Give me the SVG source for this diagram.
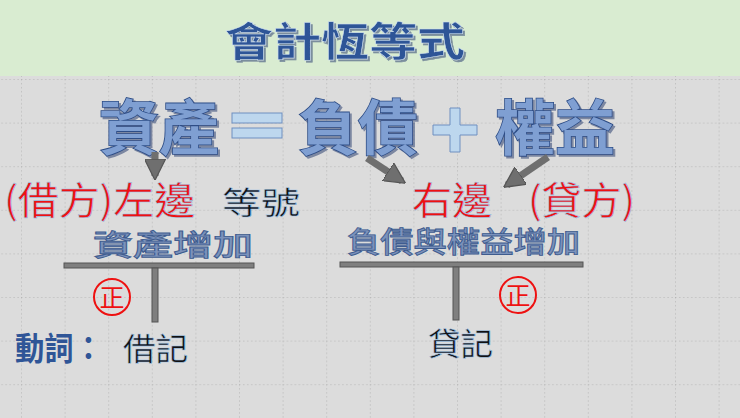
<svg xmlns="http://www.w3.org/2000/svg" width="740" height="418" viewBox="0 0 740 418">
<defs>
<pattern id="grid" x="21" y="35.4" width="43.6" height="43.6" patternUnits="userSpaceOnUse">
<path d="M0 0V43.6M0 0H43.6" fill="none" stroke="#a8a8a8" stroke-width="1" stroke-dasharray="1.5 2.5"/>
</pattern>
<filter id="ds" x="-10%" y="-10%" width="130%" height="130%"><feDropShadow dx="2" dy="2" stdDeviation="0.6" flood-color="#3b4f7a" flood-opacity="0.6"/></filter>
<marker id="ah" viewBox="0 0 10 10" refX="8" refY="5" markerWidth="3" markerHeight="3" orient="auto"><path d="M0 0L10 5L0 10z" fill="#6f6f6f" stroke="#555" stroke-width="0.6"/></marker>
</defs>
<style>
.cjk{font-family:"Noto Sans CJK TC","Noto Sans CJK SC",sans-serif}
.big{font-size:60px;font-weight:bold;fill:#7f9fd2;stroke:#2e4d86;stroke-width:1.6;paint-order:stroke;filter:url(#ds)}
.red{font-size:38px;fill:#ee1111;stroke:#9dc3e6;stroke-width:0.6}
.sub{font-size:29px;font-weight:500;fill:#7b92bb;stroke:#3f5c8f;stroke-width:0.9}
.blk{font-size:31px;fill:#111;stroke:#9dc3e6;stroke-width:0.6}
.bar{fill:#7f7f7f;stroke:#555;stroke-width:1}
.arr{stroke:#6f6f6f;stroke-width:7;fill:none}
</style>
<rect width="740" height="418" fill="#dcdcdc"/>
<rect width="740" height="418" fill="url(#grid)"/>
<rect width="740" height="76" fill="#d9ecd1"/>
<g id="title"><text x="225" y="56" textLength="240" lengthAdjust="spacingAndGlyphs" class="cjk" font-size="40" font-weight="bold" fill="#2f5597" stroke="#cfe0f3" stroke-width="0.5" filter="url(#ds)">會計恆等式</text></g>
<g id="equation">
<text x="99" y="150" class="cjk big">資產</text>
<rect x="232" y="113" width="50" height="10" fill="#bdd7ee" stroke="#6f8fc0"/>
<rect x="232" y="128" width="50" height="10" fill="#bdd7ee" stroke="#6f8fc0"/>
<text x="298" y="150" class="cjk big">負債</text>
<path d="M450 108h10v17h17v10h-17v17h-10v-17h-17v-10h17z" fill="#bdd7ee" stroke="#6f8fc0"/>
<text x="495" y="150" class="cjk big">權益</text>
</g>
<g id="connectors">
<path class="arr" d="M155 152V176" marker-end="url(#ah)"/>
<path class="arr" d="M367 158L402 181" marker-end="url(#ah)"/>
<path class="arr" d="M548 157L507 185" marker-end="url(#ah)"/>
<rect class="bar" x="64" y="263" width="190" height="5"/>
<rect class="bar" x="152" y="268" width="6" height="54"/>
<rect class="bar" x="340" y="262" width="243" height="5"/>
<rect class="bar" x="453" y="267" width="6" height="53"/>
</g>
<g id="left"><text x="4" y="214" textLength="191" lengthAdjust="spacingAndGlyphs" class="cjk red">(借方)左邊</text></g>
<g id="equal"><text x="222" y="214" textLength="78" lengthAdjust="spacingAndGlyphs" class="cjk blk" font-size="36">等號</text></g>
<g id="right"><text x="412" y="214" textLength="80" lengthAdjust="spacingAndGlyphs" class="cjk red">右邊</text><text x="528" y="214" textLength="107" lengthAdjust="spacingAndGlyphs" class="cjk red">(貸方)</text></g>
<g id="assetInc"><text x="93" y="256" textLength="160" lengthAdjust="spacingAndGlyphs" class="cjk sub">資產增加</text></g>
<g id="liabInc"><text x="347" y="253" textLength="233" lengthAdjust="spacingAndGlyphs" class="cjk sub">負債與權益增加</text></g>
<g id="pos1"><circle cx="112" cy="297" r="18" fill="none" stroke="#e11" stroke-width="2"/><text x="112" y="307" text-anchor="middle" class="cjk" font-size="25" fill="#e11">正</text></g>
<g id="pos2"><circle cx="518" cy="295" r="18" fill="none" stroke="#e11" stroke-width="2"/><text x="518" y="305" text-anchor="middle" class="cjk" font-size="25" fill="#e11">正</text></g>
<g id="verb"><text x="15" y="360" textLength="88" lengthAdjust="spacingAndGlyphs" class="cjk" font-size="32" font-weight="bold" fill="#2f5597">動詞：</text></g>
<g id="debit"><text x="123" y="360" textLength="65" lengthAdjust="spacingAndGlyphs" class="cjk blk">借記</text></g>
<g id="credit"><text x="428" y="355" textLength="65" lengthAdjust="spacingAndGlyphs" class="cjk blk">貸記</text></g>
</svg>
